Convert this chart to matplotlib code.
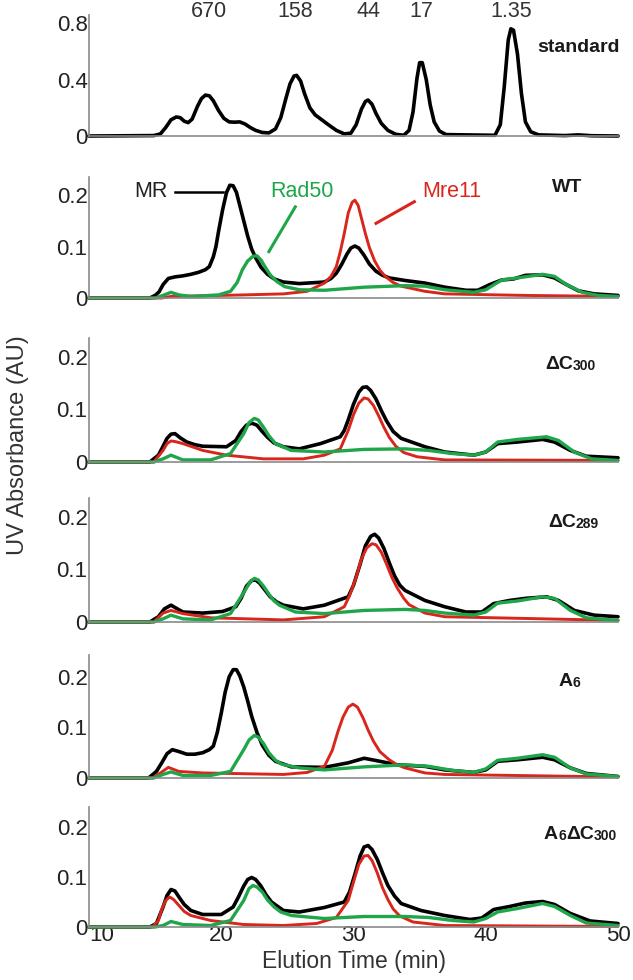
import matplotlib
matplotlib.use("Agg")
import matplotlib.pyplot as plt

plt.rcParams['font.family'] = ['Liberation Sans', 'DejaVu Sans']

# ---- standard (size markers in kDa) ----
std_t = [10, 14.9, 15.4, 15.8, 16.2, 16.6, 16.9, 17.2, 17.5, 17.8,
         18.2, 18.5, 18.8, 19.1, 19.4, 19.8, 20.2, 20.6, 21.0, 21.4,
         21.8, 22.2, 22.6, 23.1, 23.6, 24.1, 24.5, 24.9, 25.2, 25.5,
         25.7, 26.0, 26.3, 26.7, 27.1, 27.6, 28.1, 28.7, 29.3, 29.8,
         30.2, 30.6, 30.9, 31.1, 31.4, 31.7, 32.1, 32.6, 33.2, 33.8,
         34.2, 34.5, 34.8, 35.0, 35.2, 35.5, 35.8, 36.1, 36.5, 37.0,
         40.7, 41.1, 41.4, 41.7, 41.9, 42.1, 42.4, 42.7, 43.0, 43.4,
         44.0, 46.0, 47.0, 48.0, 50]
std_y = [0, 0.003, 0.015, 0.06, 0.115, 0.135, 0.13, 0.105, 0.095, 0.12,
         0.21, 0.265, 0.29, 0.285, 0.25, 0.18, 0.125, 0.1, 0.098, 0.1,
         0.085, 0.06, 0.04, 0.025, 0.022, 0.05, 0.13, 0.27, 0.37, 0.425,
         0.43, 0.39, 0.3, 0.2, 0.15, 0.115, 0.08, 0.04, 0.015, 0.02,
         0.08, 0.19, 0.245, 0.255, 0.225, 0.16, 0.09, 0.04, 0.012, 0.005,
         0.04, 0.17, 0.41, 0.52, 0.52, 0.4, 0.22, 0.1, 0.035, 0.01,
         0.005, 0.08, 0.35, 0.68, 0.76, 0.75, 0.58, 0.3, 0.1, 0.03,
         0.008, 0.003, 0.008, 0.002, 0]
marker_t = [19.1, 25.6, 31.1, 35.1, 41.9]
marker_lbl = ['670', '158', '44', '17', '1.35']

# ---- WT ----
wt_mr_t = [10, 14.6, 15.0, 15.3, 15.6, 16.0, 16.5, 17.1, 17.7, 18.3,
           18.8, 19.1, 19.4, 19.6, 19.8, 20.1, 20.4, 20.65, 20.9, 21.15,
           21.4, 21.7, 22.0, 22.3, 22.6, 23.0, 23.5, 24.0, 24.7, 25.9,
           27.8, 28.3, 28.7, 29.1, 29.5, 29.8, 30.1, 30.4, 30.8, 31.2,
           31.7, 32.2, 32.7, 33.9, 35.4, 36.9, 38.5, 39.4, 40.3, 41.2,
           42.1, 43.0, 44.3, 45.2, 46.1, 47.0, 48.2, 50]
wt_mr_y = [0, 0, 0.005, 0.012, 0.026, 0.038, 0.041, 0.043, 0.046, 0.05,
           0.055, 0.061, 0.08, 0.1, 0.13, 0.171, 0.205, 0.219, 0.218, 0.205,
           0.18, 0.15, 0.12, 0.095, 0.078, 0.06, 0.046, 0.037, 0.031, 0.028,
           0.031, 0.038, 0.048, 0.065, 0.085, 0.097, 0.101, 0.097, 0.083, 0.066,
           0.052, 0.044, 0.039, 0.034, 0.029, 0.021, 0.015, 0.015, 0.026, 0.035,
           0.037, 0.044, 0.045, 0.039, 0.026, 0.014, 0.008, 0.005]
wt_mre_t = [10, 15.5, 16.2, 21.7, 24.7, 26.5, 27.8, 28.3, 28.7, 29.0, 29.3, 29.6, 29.9,
            30.1, 30.35, 30.6, 30.9, 31.2, 31.6, 32.0, 32.4, 33.0, 33.6, 35.4, 36.9, 43.0, 50]
wt_mre_y = [0, 0, 0.003, 0.006, 0.008, 0.013, 0.029, 0.042, 0.061, 0.09, 0.125, 0.165, 0.186,
            0.19, 0.18, 0.155, 0.125, 0.098, 0.072, 0.054, 0.042, 0.03, 0.023, 0.013, 0.008,
            0.005, 0.003]
wt_rad_t = [10, 15.0, 15.6, 16.2, 16.8, 17.7, 19.8, 20.7, 21.2, 21.6, 22.0, 22.4, 22.7, 23.0,
            23.3, 23.7, 24.2, 24.8, 25.9, 27.8, 30.8, 33.9, 35.4, 36.9, 39.1, 40.0, 41.2, 42.4,
            44.3, 45.2, 46.1, 47.3, 48.5, 50]
wt_rad_y = [0, 0, 0.005, 0.011, 0.006, 0.003, 0.006, 0.013, 0.03, 0.055, 0.072, 0.081, 0.082,
            0.074, 0.061, 0.045, 0.032, 0.022, 0.016, 0.015, 0.021, 0.024, 0.023, 0.016, 0.011,
            0.016, 0.035, 0.039, 0.046, 0.042, 0.026, 0.011, 0.005, 0.003]

# ---- dC300 ----
c300_mr_t = [10, 14.6, 15.25, 15.6, 15.9, 16.2, 16.5, 16.9, 17.4, 18.0,
             18.6, 20.4, 21.1, 21.5, 21.9, 22.3, 22.7, 23.1, 23.5, 24.0,
             24.7, 25.9, 27.5, 29.0, 29.3, 29.6, 30.0, 30.4, 30.7, 31.0,
             31.3, 31.7, 32.1, 32.5, 33.0, 33.6, 35.4, 36.9, 39.1, 40.0,
             40.9, 42.4, 44.3, 45.2, 46.4, 47.6, 50]
c300_mr_y = [0, 0, 0.013, 0.03, 0.045, 0.053, 0.054, 0.046, 0.038, 0.033,
             0.03, 0.029, 0.041, 0.058, 0.07, 0.074, 0.07, 0.058, 0.047, 0.036,
             0.029, 0.025, 0.035, 0.048, 0.06, 0.08, 0.11, 0.133, 0.142, 0.143,
             0.136, 0.12, 0.098, 0.078, 0.058, 0.045, 0.029, 0.019, 0.013, 0.019,
             0.035, 0.038, 0.043, 0.038, 0.022, 0.011, 0.008]
c300_mre_t = [10, 14.9, 15.6, 15.9, 16.2, 16.5, 17.1, 18.6, 20.4, 23.2, 26.2, 27.8, 29.0, 29.6,
              30.0, 30.4, 30.8, 31.1, 31.5, 31.9, 32.3, 32.7, 33.2, 33.8, 34.8, 36.9, 50]
c300_mre_y = [0, 0, 0.022, 0.035, 0.04, 0.039, 0.035, 0.022, 0.013, 0.006, 0.006, 0.013, 0.025,
              0.06, 0.09, 0.112, 0.122, 0.12, 0.108, 0.088, 0.066, 0.047, 0.03, 0.018, 0.01,
              0.004, 0.003]
c300_rad_t = [10, 14.9, 15.6, 16.2, 17.1, 19.2, 20.7, 21.7, 22.1, 22.5, 22.8, 23.2, 23.6, 24.1,
              25.3, 27.8, 30.8, 33.9, 35.7, 37.5, 39.1, 40.0, 40.9, 42.4, 44.6, 45.5, 46.7, 48.0,
              50]
c300_rad_y = [0, 0, 0.006, 0.013, 0.004, 0.004, 0.016, 0.054, 0.075, 0.083, 0.08, 0.066, 0.05,
              0.035, 0.022, 0.019, 0.024, 0.025, 0.022, 0.016, 0.013, 0.019, 0.038, 0.043, 0.048,
              0.041, 0.019, 0.006, 0.003]

# ---- dC289 ----
c289_mr_t = [10, 14.6, 15.25, 15.7, 16.2, 17.1, 18.6, 20.1, 21.1, 21.5,
             21.9, 22.3, 22.6, 22.9, 23.3, 23.7, 24.2, 24.7, 26.2, 27.8,
             29.6, 30.0, 30.5, 30.9, 31.3, 31.6, 31.9, 32.3, 32.7, 33.1,
             33.5, 33.9, 35.4, 36.9, 38.5, 39.7, 40.6, 41.8, 43.0, 44.6,
             45.5, 46.7, 48.2, 50]
c289_mr_y = [0, 0, 0.01, 0.025, 0.032, 0.019, 0.017, 0.02, 0.029, 0.045,
             0.068, 0.079, 0.08, 0.074, 0.061, 0.048, 0.038, 0.032, 0.025, 0.032,
             0.048, 0.07, 0.11, 0.145, 0.163, 0.167, 0.16, 0.14, 0.113, 0.088,
             0.07, 0.06, 0.041, 0.029, 0.019, 0.019, 0.035, 0.041, 0.045, 0.048,
             0.041, 0.022, 0.013, 0.01]
c289_mre_t = [10, 14.9, 15.6, 16.2, 17.1, 19.2, 24.7, 27.8, 29.3, 29.7, 30.2, 30.6, 31.0, 31.4,
              31.7, 32.1, 32.5, 32.9, 33.3, 33.8, 34.2, 35.4, 36.9, 50]
c289_mre_y = [0, 0, 0.017, 0.022, 0.016, 0.008, 0.004, 0.01, 0.029, 0.05, 0.085, 0.12, 0.141,
              0.149, 0.147, 0.133, 0.11, 0.085, 0.065, 0.045, 0.033, 0.017, 0.01, 0.003]
c289_rad_t = [10, 14.9, 15.6, 16.2, 17.1, 19.2, 20.7, 21.8, 22.2, 22.5, 22.8, 23.2, 23.6, 24.0,
              24.4, 25.6, 27.8, 30.8, 33.9, 35.4, 36.9, 39.1, 40.0, 40.9, 42.4, 44.3, 45.2, 46.4,
              47.6, 50]
c289_rad_y = [0, 0, 0.006, 0.013, 0.006, 0.004, 0.016, 0.06, 0.077, 0.083, 0.08, 0.068, 0.053,
              0.04, 0.032, 0.019, 0.016, 0.022, 0.024, 0.022, 0.017, 0.013, 0.019, 0.036, 0.04,
              0.048, 0.045, 0.022, 0.008, 0.003]

# ---- A6 ----
a6_mr_t = [10, 14.5, 15.1, 15.5, 15.9, 16.3, 16.7, 17.4, 18.0, 18.6,
           19.1, 19.4, 19.7, 20.0, 20.3, 20.6, 20.9, 21.15, 21.4, 21.7,
           22.0, 22.3, 22.7, 23.1, 23.6, 24.1, 25.3, 27.8, 29.6, 30.8,
           32.0, 33.3, 35.4, 36.9, 39.1, 40.0, 40.9, 42.4, 44.3, 45.2,
           46.4, 47.6, 50]
a6_mr_y = [0, 0, 0.013, 0.03, 0.048, 0.056, 0.053, 0.047, 0.047, 0.05,
           0.056, 0.063, 0.09, 0.128, 0.17, 0.2, 0.214, 0.214, 0.202, 0.18,
           0.152, 0.122, 0.09, 0.065, 0.045, 0.033, 0.022, 0.021, 0.03, 0.039,
           0.033, 0.026, 0.023, 0.016, 0.011, 0.016, 0.033, 0.036, 0.041, 0.036,
           0.02, 0.009, 0.003]
a6_mre_t = [10, 14.8, 15.4, 16.0, 16.8, 18.6, 24.7, 26.5, 27.8, 28.4, 28.8, 29.2, 29.6, 29.95,
            30.3, 30.7, 31.1, 31.5, 32.0, 32.7, 33.3, 33.9, 35.4, 36.9, 50]
a6_mre_y = [0, 0, 0.01, 0.021, 0.013, 0.01, 0.007, 0.011, 0.023, 0.055, 0.09, 0.12, 0.14, 0.146,
            0.14, 0.12, 0.095, 0.073, 0.052, 0.036, 0.026, 0.02, 0.01, 0.007, 0.002]
a6_rad_t = [10, 14.9, 15.6, 16.2, 17.1, 19.2, 20.7, 21.7, 22.1, 22.5, 22.8, 23.2, 23.6, 24.1,
            24.6, 25.9, 27.8, 30.8, 33.9, 35.7, 37.5, 39.1, 40.0, 40.9, 42.4, 44.3, 45.2, 46.4,
            47.6, 50]
a6_rad_y = [0, 0, 0.007, 0.012, 0.005, 0.005, 0.013, 0.056, 0.075, 0.084, 0.081, 0.068, 0.05,
            0.035, 0.027, 0.02, 0.016, 0.022, 0.026, 0.023, 0.015, 0.011, 0.018, 0.035, 0.039,
            0.046, 0.041, 0.02, 0.008, 0.003]

# ---- A6dC300 ----
a6c_mr_t = [10, 14.6, 15.1, 15.6, 15.9, 16.2, 16.5, 16.8, 17.2, 17.7,
            18.6, 20.0, 20.9, 21.3, 21.7, 22.0, 22.3, 22.6, 23.0, 23.4,
            23.8, 24.7, 25.9, 27.8, 29.3, 29.7, 30.1, 30.5, 30.8, 31.1,
            31.4, 31.8, 32.2, 32.6, 33.1, 33.6, 35.1, 36.9, 38.8, 39.7,
            40.6, 41.8, 43.0, 44.3, 45.2, 46.4, 47.9, 50]
a6c_mr_y = [0, 0, 0.007, 0.04, 0.063, 0.075, 0.072, 0.06, 0.045, 0.033,
            0.025, 0.025, 0.04, 0.06, 0.082, 0.095, 0.099, 0.095, 0.082, 0.064,
            0.05, 0.033, 0.03, 0.039, 0.05, 0.07, 0.105, 0.142, 0.16, 0.163,
            0.155, 0.135, 0.108, 0.083, 0.062, 0.047, 0.033, 0.023, 0.015, 0.018,
            0.035, 0.041, 0.048, 0.051, 0.045, 0.027, 0.012, 0.007]
a6c_mre_t = [10, 14.8, 15.25, 15.5, 15.8, 16.1, 16.4, 16.8, 17.2, 17.7, 19.2, 21.7, 24.7, 27.2,
             28.7, 29.6, 30.0, 30.4, 30.8, 31.1, 31.4, 31.8, 32.2, 32.6, 33.0, 33.5, 34.5, 36.9,
             50]
a6c_mre_y = [0, 0, 0.013, 0.035, 0.053, 0.06, 0.055, 0.043, 0.031, 0.023, 0.013, 0.005, 0.003,
             0.007, 0.019, 0.053, 0.09, 0.125, 0.142, 0.143, 0.133, 0.108, 0.078, 0.055, 0.036,
             0.022, 0.01, 0.003, 0.001]
a6c_rad_t = [10, 15.0, 15.6, 16.2, 17.1, 19.2, 20.7, 21.7, 22.1, 22.4, 22.7, 23.1, 23.5, 24.0,
             24.5, 25.3, 27.8, 30.8, 33.9, 35.7, 37.5, 39.1, 40.0, 40.9, 42.4, 44.3, 45.2, 46.4,
             47.6, 50]
a6c_rad_y = [0, 0, 0.003, 0.011, 0.005, 0.003, 0.013, 0.053, 0.077, 0.083, 0.08, 0.07, 0.054,
             0.04, 0.03, 0.023, 0.017, 0.021, 0.021, 0.019, 0.013, 0.01, 0.017, 0.03, 0.037,
             0.047, 0.041, 0.023, 0.008, 0.003]

# panel name pieces: (text, small?)
names = [
    [('WT', False)],
    [('\u0394C', False), ('300', True)],
    [('\u0394C', False), ('289', True)],
    [('A', False), ('6', True)],
    [('A', False), ('6', True), ('\u0394C', False), ('300', True)],
]
panels = [
    (wt_mr_t, wt_mr_y, wt_mre_t, wt_mre_y, wt_rad_t, wt_rad_y),
    (c300_mr_t, c300_mr_y, c300_mre_t, c300_mre_y, c300_rad_t, c300_rad_y),
    (c289_mr_t, c289_mr_y, c289_mre_t, c289_mre_y, c289_rad_t, c289_rad_y),
    (a6_mr_t, a6_mr_y, a6_mre_t, a6_mre_y, a6_rad_t, a6_rad_y),
    (a6c_mr_t, a6c_mr_y, a6c_mre_t, a6c_mre_y, a6c_rad_t, a6c_rad_y),
]

BLACK, RED, GREEN = '#000000', '#d9261c', '#1fa64a'
GRAY = '#8a8a8a'
W, H = 633, 980

fig = plt.figure(figsize=(W / 100, H / 100), dpi=100)

# pixel boxes (top, bottom) of every axes, plus y max
boxes = [(15, 136, 0.858), (177, 298, 0.235), (338, 462, 0.236), (498, 622, 0.236),
         (655, 778, 0.243), (807, 927, 0.24)]
x0, x1 = 89, 618
line_kw = dict(clip_on=False, solid_joinstyle='round', solid_capstyle='round')


def make_ax(top, bot, ymax):
    ax = fig.add_axes([x0 / W, 1 - bot / H, (x1 - x0) / W, (bot - top) / H])
    ax.set_xlim(10, 50)
    ax.set_ylim(0, ymax)
    for s in ['top', 'right']:
        ax.spines[s].set_visible(False)
    for s in ['left', 'bottom']:
        ax.spines[s].set_color(GRAY)
        ax.spines[s].set_linewidth(1.2)
    ax.tick_params(length=0, labelsize=16, colors='#222222', pad=1)
    ax.set_xticks([])
    ax.patch.set_alpha(0)
    return ax


def put_label(ax, x, y, pieces):
    prev = None
    for txt, small in pieces:
        fs = 10 if small else 14
        if prev is None:
            prev = ax.text(x, y, txt, fontsize=fs, fontweight='bold', va='center',
                           ha='left', color='#1a1a1a')
        else:
            prev = ax.annotate(txt, xy=(1, 0), xycoords=prev, va='bottom', ha='left',
                               fontsize=fs, fontweight='bold', color='#1a1a1a')


# standard panel
ax = make_ax(*boxes[0])
ax.plot(std_t, std_y, color=BLACK, lw=2.6, **line_kw)
ax.set_yticks([0, 0.4, 0.8])
ax.set_yticklabels(['0', '0.4', '0.8'])
for t, s in zip(marker_t, marker_lbl):
    ax.text(t, 0.885, s, ha='center', va='center', fontsize=15.5, color='#333333',
            clip_on=False)
ax.text(43.9, 0.63, 'standard', fontsize=14, fontweight='bold', va='center', ha='left',
        color='#1a1a1a', clip_on=False)

label_pos = [(45.0, 0.214), (44.5, 0.185), (44.7, 0.19), (45.5, 0.19), (44.4, 0.186)]

for i, (mr_t, mr_y, mre_t, mre_y, rad_t, rad_y) in enumerate(panels):
    ax = make_ax(*boxes[i + 1])
    ax.plot(mr_t, mr_y, color=BLACK, lw=2.6, **line_kw)
    ax.plot(mre_t, mre_y, color=RED, lw=2.1, **line_kw)
    ax.plot(rad_t, rad_y, color=GREEN, lw=2.4, **line_kw)
    ax.set_yticks([0, 0.1, 0.2])
    ax.set_yticklabels(['0', '0.1', '0.2'])
    put_label(ax, label_pos[i][0], label_pos[i][1], names[i])
    if i == 0:
        # legend-like annotations
        ax.text(14.7, 0.206, 'MR', fontsize=15.5, color='#222222', ha='center', va='center')
        ax.plot([16.5, 20.1], [0.206, 0.206], color=BLACK, lw=1.8)
        ax.text(26.1, 0.206, 'Rad50', fontsize=15.5, color=GREEN, ha='center', va='center')
        ax.plot([25.6, 23.6], [0.177, 0.09], color=GREEN, lw=2.2)
        ax.text(37.4, 0.206, 'Mre11', fontsize=15.5, color=RED, ha='center', va='center')
        ax.plot([34.6, 31.7], [0.187, 0.145], color=RED, lw=2.2)
    if i == len(panels) - 1:
        ax.set_xticks([10, 20, 30, 40, 50])
        ax.set_xticklabels(['10', '20', '30', '40', '50'])
        ax.tick_params(axis='x', pad=-1.5)
        ax.get_xticklabels()[0].set_ha('left')
        ax.set_xlabel('Elution Time (min)', fontsize=16.5, color='#333333', labelpad=3)

fig.text(18 / W, 1 - 445 / H, 'UV Absorbance (AU)', rotation=90, fontsize=17,
         color='#333333', ha='center', va='center')

fig.savefig('out.png', dpi=100)
